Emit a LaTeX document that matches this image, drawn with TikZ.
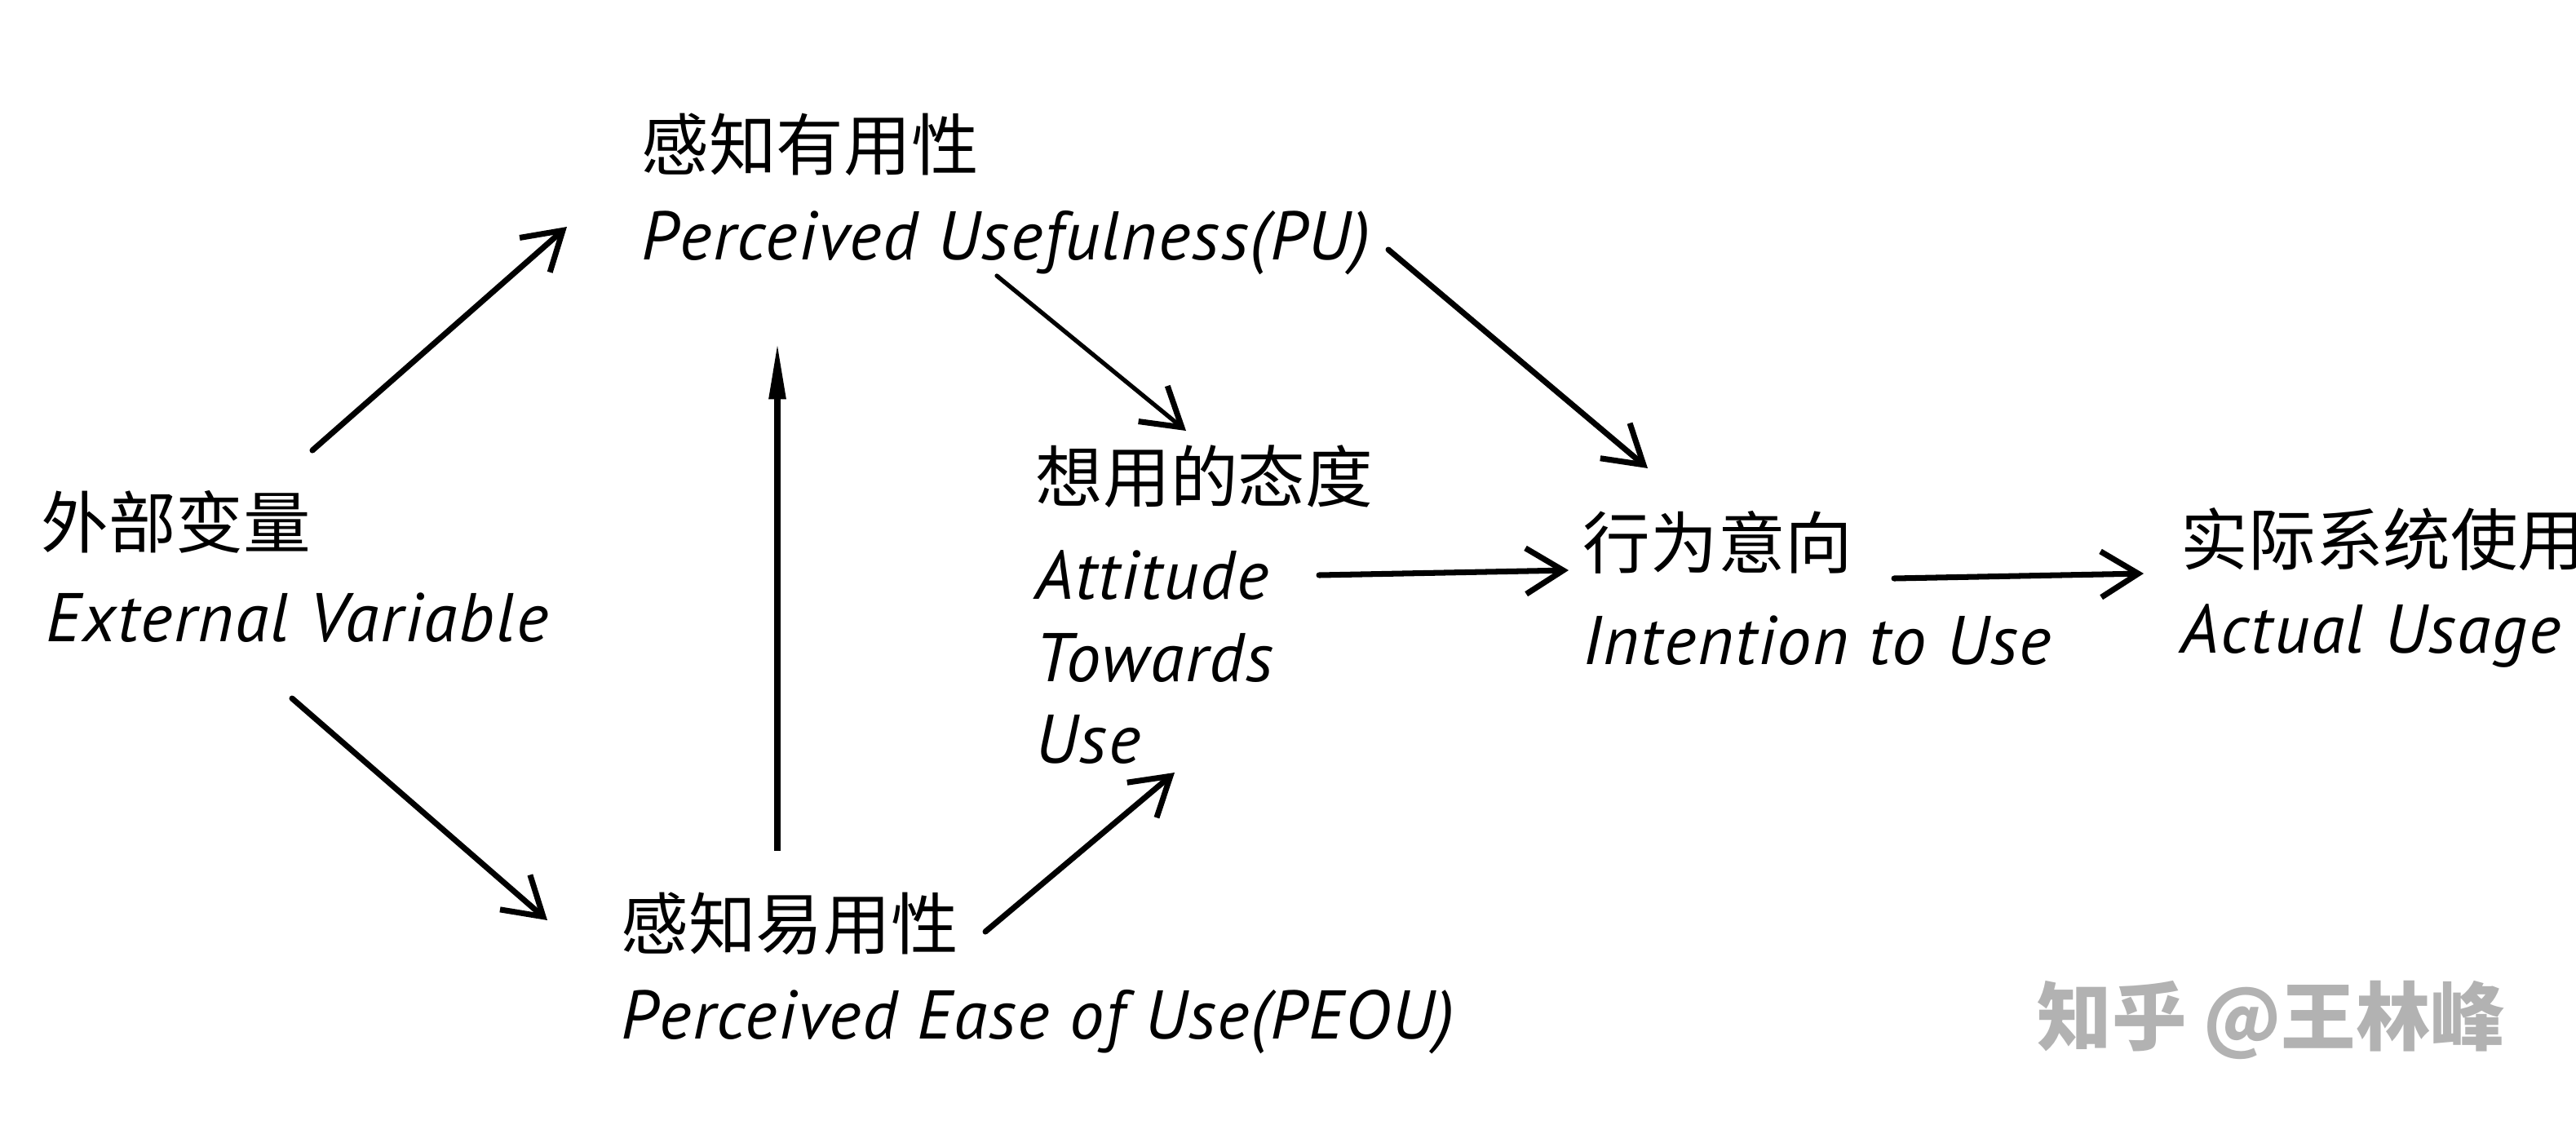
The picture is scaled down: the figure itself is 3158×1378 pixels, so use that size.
\documentclass[tikz,border=0pt]{standalone}
\usepackage{fontspec}
\setmainfont{PT Sans}
\newfontfamily\cjk{Noto Sans CJK SC}
\newfontfamily\hand[LetterSpace=2.2]{PT Sans}
\usetikzlibrary{arrows.meta}
\begin{document}
\begin{tikzpicture}[x=0.01cm,y=-0.01cm,
  zh/.style={anchor=west,inner sep=0pt,font=\cjk\fontsize{23.5}{26}\selectfont},
  en/.style={anchor=west,inner sep=0pt,font=\hand\itshape\fontsize{24}{28}\selectfont},
  link/.style={line width=2pt,line cap=round,line join=round,
    -{Straight Barb[length=13pt,width=16pt,line width=2pt]}},
  thinlink/.style={link,line width=1.5pt},
  uplink/.style={line width=2.2pt,-{Triangle[length=20pt,width=5.5pt]}},
  wm/.style={anchor=west,inner sep=0pt,text=black!30,font=\cjk\bfseries\fontsize{26}{28}\selectfont}]
\useasboundingbox (0,0) rectangle (3158,1378);
\fill[white] (0,0) rectangle (3158,1378);
% labels
\node[zh] (puzh) at (786,177) {感知有用性};
\node[en] (puen) at (786,298) {Perceived Usefulness(PU)};
\node[zh] (evzh) at (50,640) {外部变量};
\node[en] (even) at (56,757) {External Variable};
\node[zh] (peouzh) at (761,1132) {感知易用性};
\node[en] (peouen) at (761,1253) {Perceived Ease of Use(PEOU)};
\node[zh] (atzh) at (1269,584) {想用的态度};
\node[en] (aten1) at (1269,705) {Attitude};
\node[en] (aten2) at (1269,806) {Towards};
\node[en] (aten3) at (1269,906) {Use};
\node[zh] (inzh) at (1940,665) {行为意向};
\node[en] (inen) at (1940,785) {Intention to Use};
\node[zh] (aczh) at (2673,661) {实际系统使用};
\node[en] (acen) at (2673,779) {Actual Usage};
\node[wm] (mark) at (2497,1250) {知乎 @王林峰};
% connector ends
\coordinate (ev1) at (383,552);  \coordinate (pu1) at (695,278);
\coordinate (ev2) at (358,856);  \coordinate (peou1) at (671,1128);
\coordinate (peou2) at (953,1043); \coordinate (pu2) at (953,419);
\coordinate (pu3) at (1222,338); \coordinate (at1) at (1454,528);
\coordinate (pu4) at (1702,306); \coordinate (in1) at (2020,574);
\coordinate (at2) at (1617,705); \coordinate (in2) at (1923,699);
\coordinate (in3) at (2322,709); \coordinate (ac1) at (2628,703);
\coordinate (peou3) at (1208,1142); \coordinate (at3) at (1440,947);
% connectors
\draw[link] (ev1) -- (pu1);
\draw[link] (ev2) -- (peou1);
\draw[uplink] (peou2) -- (pu2);
\draw[thinlink] (pu3) -- (at1);
\draw[link] (pu4) -- (in1);
\draw[link] (at2) -- (in2);
\draw[link] (in3) -- (ac1);
\draw[link] (peou3) -- (at3);
\end{tikzpicture}
\end{document}
